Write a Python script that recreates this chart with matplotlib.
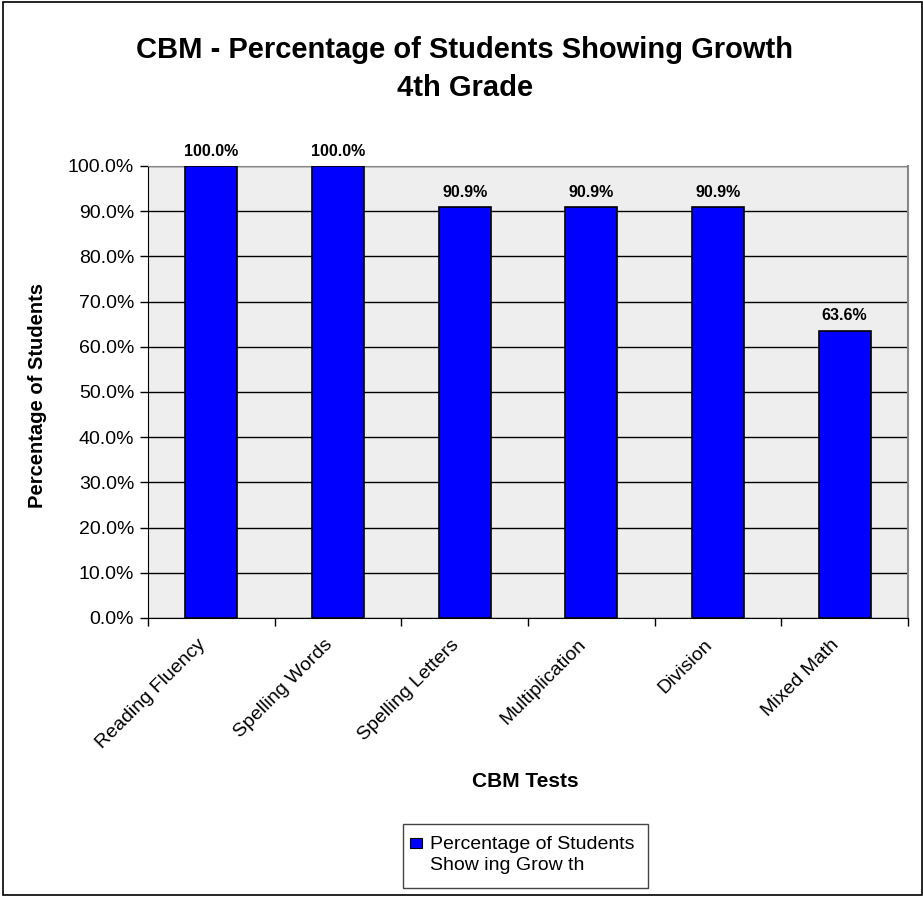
import numpy as np
import matplotlib.pyplot as plt
import matplotlib.transforms as mtrans
from matplotlib.patches import Rectangle

categories = ["Reading Fluency", "Spelling Words", "Spelling Letters",
              "Multiplication", "Division", "Mixed Math"]
values = [100.0, 100.0, 90.9, 90.9, 90.9, 63.6]
series_name = "Percentage of Students\nShow ing Grow th"

plt.rcParams['font.family'] = ['Liberation Sans', 'DejaVu Sans']

W, H = 923, 897
fig = plt.figure(figsize=(W / 100, H / 100), dpi=100)

# outer chart border
fig.patches.append(Rectangle((3 / W, 2 / H), (W - 4) / W, (H - 4) / H,
                             transform=fig.transFigure, fill=False,
                             edgecolor='black', linewidth=1.2))

left, right, top, bottom = 148, 908, 166, 618
ax = fig.add_axes([left / W, 1 - bottom / H, (right - left) / W, (bottom - top) / H])
ax.set_facecolor('#EEEEEE')

x = np.arange(len(categories))
ax.bar(x, values, width=0.41, color='#0000FF', edgecolor='black', linewidth=1.2, zorder=3)
for xi, v in zip(x, values):
    ax.text(xi, v + 1.6, f"{v:.1f}%", ha='center', va='bottom',
            fontsize=11.5, fontweight='bold')

ax.set_xlim(-0.5, len(categories) - 0.5)
ax.set_ylim(0, 100)
ax.set_yticks(np.arange(0, 101, 10))
ax.set_yticklabels([f"{t:.1f}%" for t in np.arange(0, 101, 10)], fontsize=14)
ax.yaxis.grid(True, color='black', linewidth=1.0, zorder=1)
ax.set_axisbelow(True)

ax.set_xticks(np.arange(-0.5, len(categories), 1.0))
ax.set_xticklabels([])
ax.set_xticks(x, minor=True)
ax.set_xticklabels(categories, minor=True, rotation=45, ha='right',
                   rotation_mode='anchor', fontsize=14)
ax.tick_params(axis='x', which='minor', length=0, pad=13)
ax.tick_params(axis='x', which='major', length=6, direction='out', width=1)
ax.tick_params(axis='y', length=6, direction='out', width=1, pad=4)
shift = mtrans.ScaledTranslation(-14 / 100, 0, fig.dpi_scale_trans)
for lab in ax.get_xticklabels(minor=True):
    lab.set_transform(lab.get_transform() + shift)

ax.spines['left'].set_color('black')
ax.spines['bottom'].set_color('black')
ax.spines['top'].set_color('#888888')
ax.spines['right'].set_color('#888888')
ax.spines['right'].set_linewidth(1.5)

fig.text(465 / W, 1 - 58 / H, "CBM - Percentage of Students Showing Growth",
         ha='center', va='baseline', fontsize=21, fontweight='bold')
fig.text(465 / W, 1 - 96 / H, "4th Grade",
         ha='center', va='baseline', fontsize=21, fontweight='bold')
fig.text(38 / W, 1 - 396 / H, "Percentage of Students", rotation=90,
         ha='center', va='center', fontsize=14.5, fontweight='bold')
fig.text(525 / W, 1 - 781 / H, "CBM Tests", ha='center', va='center',
         fontsize=15, fontweight='bold')

# legend box
fig.patches.append(Rectangle((403 / W, 1 - 888 / H), 245 / W, 64 / H,
                             transform=fig.transFigure, facecolor='white',
                             edgecolor='#444444', linewidth=1.0))
fig.patches.append(Rectangle((410 / W, 1 - 848 / H), 12 / W, 10 / H,
                             transform=fig.transFigure, facecolor='#0000FF',
                             edgecolor='black', linewidth=0.8))
fig.text(430 / W, 1 - 855 / H, series_name, ha='left', va='center',
         fontsize=14, linespacing=1.25)

fig.savefig("out.png", dpi=100)
